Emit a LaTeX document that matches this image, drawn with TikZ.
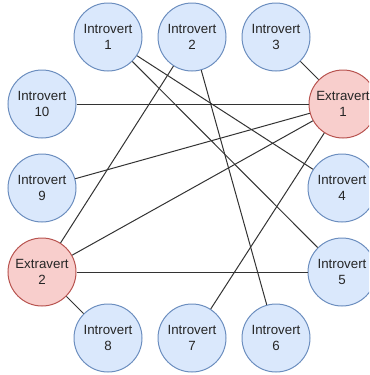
\documentclass[tikz,border=0pt]{standalone}
\usepackage{fontspec}
\setmainfont{Liberation Sans}
\definecolor{blueFill}{HTML}{DAE8FC}
\definecolor{blueLine}{HTML}{6C8EBF}
\definecolor{redFill}{HTML}{F8CECC}
\definecolor{redLine}{HTML}{B85450}
\definecolor{edgeCol}{HTML}{333333}
\tikzset{
  person/.style={circle, inner sep=0pt, minimum size=51pt, line width=0.75pt, align=center, font=\fontsize{10}{11.8}\selectfont, text=black!85},
  intro/.style={person, draw=blueLine, fill=blueFill},
  extra/.style={person, draw=redLine, fill=redFill},
  link/.style={draw=edgeCol, line width=0.75pt}
}
\begin{document}
\begin{tikzpicture}[x=0.75pt,y=-0.75pt]
\useasboundingbox (0,0) rectangle (369,375);
\begin{scope}
\clip (0,0) rectangle (369,375);
\node[intro] (i1) at (108,37) {Introvert\\1};
\node[intro] (i2) at (192,37) {Introvert\\2};
\node[intro] (i3) at (276,37) {Introvert\\3};
\node[intro] (i10) at (42,104) {Introvert\\10};
\node[extra] (e1) at (343,104) {Extravert\\1};
\node[intro] (i9) at (42,188) {Introvert\\9};
\node[intro] (i4) at (342,188) {Introvert\\4};
\node[extra] (e2) at (42,272) {Extravert\\2};
\node[intro] (i5) at (342,272) {Introvert\\5};
\node[intro] (i8) at (108,338) {Introvert\\8};
\node[intro] (i7) at (192,338) {Introvert\\7};
\node[intro] (i6) at (276,338) {Introvert\\6};
\draw[link] (i3) -- (e1);
\draw[link] (i10) -- (e1);
\draw[link] (i9) -- (e1);
\draw[link] (e2) -- (e1);
\draw[link] (i7) -- (e1);
\draw[link] (i1) -- (i4);
\draw[link] (i1) -- (i5);
\draw[link] (i2) -- (i6);
\draw[link] (i2) -- (e2);
\draw[link] (e2) -- (i5);
\draw[link] (e2) -- (i8);
\end{scope}
\end{tikzpicture}
\end{document}
